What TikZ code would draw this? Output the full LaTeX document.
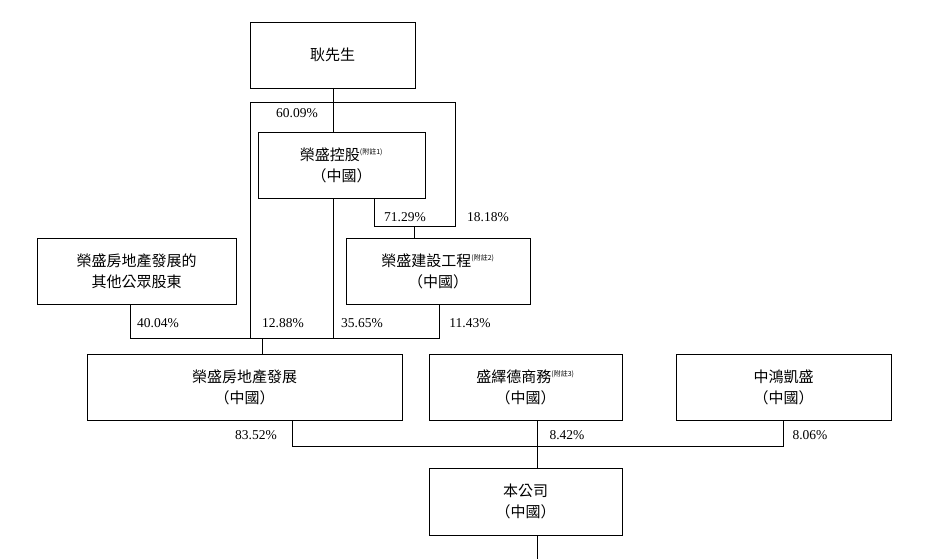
\documentclass[tikz,border=0pt]{standalone}
\usepackage{fontspec}
\setmainfont{Liberation Serif}
\newfontfamily\cjk{Noto Sans CJK TC}
\begin{document}
\begin{tikzpicture}[x=1pt,y=-1pt,
  box/.style={draw,line width=0.8pt,align=center,inner sep=0pt,font=\cjk\fontsize{15}{21}\selectfont},
  ln/.style={line width=0.8pt},
  nt/.style={},
  pct/.style={font=\fontsize{13.5}{14}\selectfont,inner sep=0pt}]
\useasboundingbox (0,0) rectangle (948,559);
\newcommand{\bx}[6]{\node[box,minimum width=#4-#2,minimum height=#5-#3] (#1) at ({(#2+#4)/2},{(#3+#5)/2}) {#6};}
\newcommand{\fn}[1]{\textsuperscript{\fontsize{7}{7}\selectfont\itshape(#1)}}
\bx{geng}{250}{22}{415}{88}{耿先生}
\bx{kg}{258}{132}{425}{198}{榮盛控股\fn{附註1}\\（中國）}
\bx{js}{346}{238}{530}{304}{榮盛建設工程\fn{附註2}\\（中國）}
\bx{oth}{37}{238}{236}{304}{榮盛房地產發展的\\其他公眾股東}
\bx{fz}{87}{354}{402}{420}{榮盛房地產發展\\（中國）}
\bx{syd}{429}{354}{622}{420}{盛繹德商務\fn{附註3}\\（中國）}
\bx{zh}{676}{354}{891}{420}{中鴻凱盛\\（中國）}
\bx{co}{429}{468}{622}{535}{本公司\\（中國）}
\coordinate (bot) at (537,559);
\draw[ln] (333,88) -- (333,132);
\draw[ln] (250,338) -- (250,102) -- (455,102) -- (455,226) -- (374,226) -- (374,198);
\draw[ln] (414,226) -- (414,238);
\draw[ln] (333,198) -- (333,338);
\draw[ln] (130,304) -- (130,338) -- (439,338) -- (439,304);
\draw[ln] (262,338) -- (262,354);
\draw[ln] (292,420) -- (292,446) -- (783,446) -- (783,420);
\draw[ln] (537,420) -- (537,468);
\draw[ln] (537,535) -- (bot);
\node[pct] (p1) at (297,113) {60.09\%};
\node[pct] (p2) at (405,217) {71.29\%};
\node[pct] (p3) at (488,217) {18.18\%};
\node[pct] (p4) at (158,323) {40.04\%};
\node[pct] (p5) at (283,323) {12.88\%};
\node[pct] (p6) at (362,323) {35.65\%};
\node[pct] (p7) at (470,323) {11.43\%};
\node[pct] (p8) at (256,435) {83.52\%};
\node[pct] (p9) at (567,435) {8.42\%};
\node[pct] (p10) at (810,435) {8.06\%};
\end{tikzpicture}
\end{document}
